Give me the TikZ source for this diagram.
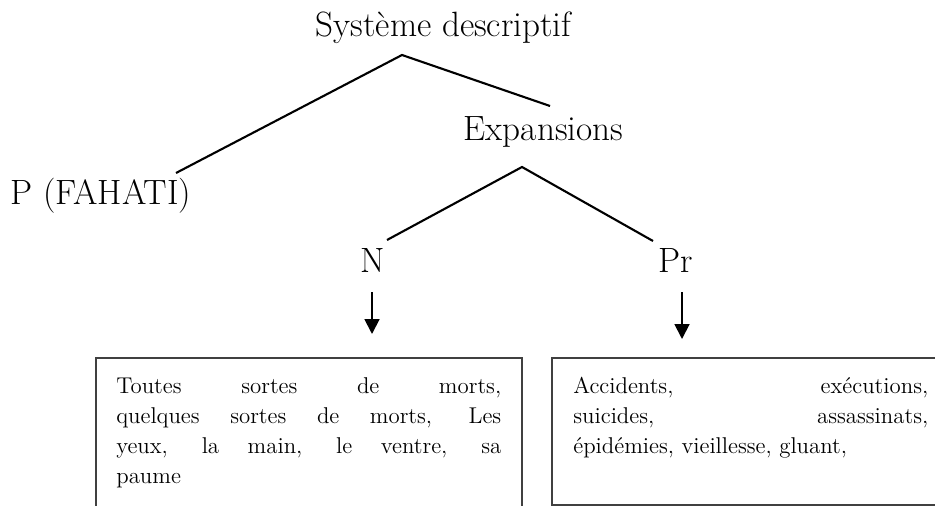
\documentclass[tikz,border=0pt]{standalone}
\usepackage{tikz}
\usetikzlibrary{arrows.meta}

\tikzset{
  treelabel/.style = {font=\fontsize{20}{24}\selectfont, inner sep=0pt, anchor=base},
  branch/.style = {line width=1.2pt},
  downarrow/.style = {line width=1.1pt, -{Triangle[width=8.5pt,length=8.5pt]}},
  boxline/.style = {font=\fontsize{13}{15.6}\selectfont, inner sep=0pt, anchor=base west},
  frame/.style = {draw=black!75, line width=0.9pt}
}

\begin{document}
\begin{tikzpicture}[x=0.02cm, y=-0.02cm]
        \clip (0,0) rectangle (935,506);

        \node[treelabel] (sys) at (443.5,37) {Système descriptif};
        \node[treelabel] (exp) at (543.5,141) {Expansions};
        \node[treelabel] (pfa) at (101,205) {P (FAHATI)};
        \node[treelabel] (nom) at (373,273) {N};
        \node[treelabel] (pre) at (676,273) {Pr};

        \coordinate (sysfoot) at (402,55);
        \coordinate (pfahead) at (176,173);
        \coordinate (exphead) at (550,106);
        \draw[branch] (pfahead) -- (sysfoot) -- (exphead);

        \coordinate (expfoot) at (522,167);
        \coordinate (nomhead) at (387,240);
        \coordinate (prehead) at (653,241);
        \draw[branch] (nomhead) -- (expfoot) -- (prehead);

        \coordinate (nomfoot) at (372,292);
        \coordinate (nomtip) at (372,334);
        \draw[downarrow] (nomfoot) -- (nomtip);
        \coordinate (prefoot) at (682,292);
        \coordinate (pretip) at (682,339);
        \draw[downarrow] (prefoot) -- (pretip);

        \draw[frame] (96,358) rectangle (522,530);
        \draw[frame] (552,358) rectangle (960,505);

        % N list
        \node[boxline] (nom1) at (116,393) {\makebox[7.7cm][s]{Toutes sortes de morts,}};
        \node[boxline] (nom2) at (116,423) {\makebox[7.7cm][s]{quelques sortes de morts, Les}};
        \node[boxline] (nom3) at (116,453) {\makebox[7.7cm][s]{yeux, la main, le ventre, sa}};
        \node[boxline] (nom4) at (116,483) {paume};

        % Pr list
        \node[boxline] (pre1) at (573,393) {\makebox[7.1cm][s]{Accidents, exécutions,}};
        \node[boxline] (pre2) at (573,423) {\makebox[7.1cm][s]{suicides, assassinats,}};
        \node[boxline] (pre3) at (573,453) {épidémies, vieillesse, gluant,};
\end{tikzpicture}
\end{document}
